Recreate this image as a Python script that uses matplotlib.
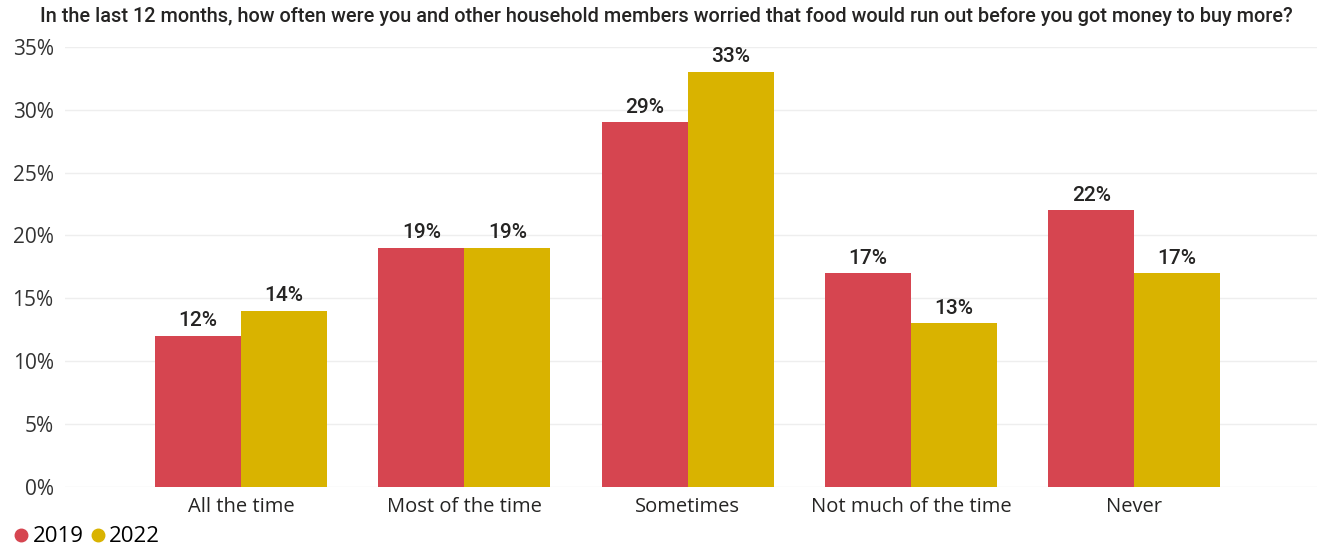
import matplotlib.pyplot as plt
from matplotlib.lines import Line2D
import numpy as np

categories = ['All the time', 'Most of the time', 'Sometimes', 'Not much of the time', 'Never']
values_2019 = [12, 19, 29, 17, 22]
values_2022 = [14, 19, 33, 13, 17]
yticks = [0, 5, 10, 15, 20, 25, 30, 35]
title = ('In the last 12 months, how often were you and other household members '
         'worried that food would run out before you got money to buy more?')

red = '#D64550'
gold = '#D9B300'

plt.rcParams['font.family'] = ['Open Sans', 'DejaVu Sans']

fig = plt.figure(figsize=(13.2, 5.52), dpi=100)
ax = fig.add_axes([0.049, 0.118, 0.949, 0.797])

x = np.arange(len(categories))
w = 0.385
b1 = ax.bar(x - w / 2, values_2019, w, color=red, zorder=2)
b2 = ax.bar(x + w / 2, values_2022, w, color=gold, zorder=2)

# value labels above each bar
for bars, vals in [(b1, values_2019), (b2, values_2022)]:
    for bar, v in zip(bars, vals):
        ax.text(bar.get_x() + bar.get_width() / 2, v + 0.45, f'{v}%',
                ha='center', va='bottom', fontsize=15, family='Roboto',
                fontweight='medium', color='#252423')

ax.set_xlim(-0.79, 4.82)
ax.set_ylim(0, 35)
ax.set_yticks(yticks)
ax.set_yticklabels([f'{t}%' for t in yticks])
ax.set_xticks(x)
ax.set_xticklabels(categories)
ax.tick_params(axis='y', length=0, labelsize=15, colors='#333333', pad=8)
ax.tick_params(axis='x', length=0, labelsize=14.5, colors='#252423', pad=7)
ax.grid(axis='y', color='#eeeeee', linewidth=1, zorder=0)
for s in ax.spines.values():
    s.set_visible(False)

fig.text(0.505, 0.988, title, ha='center', va='top', fontsize=14.3,
         family='Roboto', fontweight='medium', color='#252423')

handles = [Line2D([], [], marker='o', linestyle='none', color=c, markersize=9)
           for c in (red, gold)]
fig.legend(handles=handles, labels=['2019', '2022'], loc='lower left',
           bbox_to_anchor=(-0.004, -0.028), ncol=2, frameon=False, fontsize=16,
           handlelength=0.6, handletextpad=0.2, columnspacing=0.35)

fig.savefig('out.png', dpi=100)
